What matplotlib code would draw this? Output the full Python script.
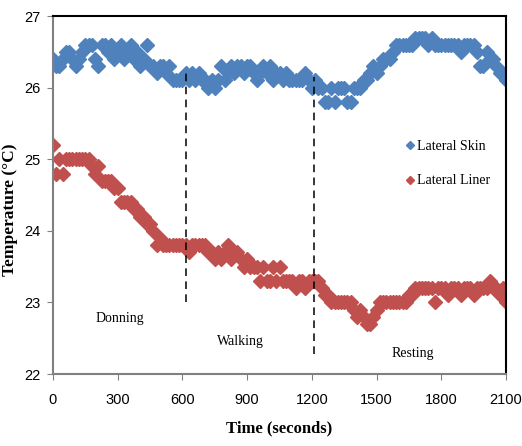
import numpy as np
import matplotlib
matplotlib.use("Agg")
import matplotlib.pyplot as plt
from matplotlib import font_manager

# temperature logged every 15 s over the 35 min trial
time_s = np.arange(0, 2101, 15)

lateral_skin = [
    26.4, 26.3, 26.3, 26.4, 26.5, 26.5, 26.4, 26.3, 26.4, 26.5,
    26.6, 26.6, 26.6, 26.4, 26.3, 26.6, 26.6, 26.5, 26.6, 26.4,
    26.5, 26.6, 26.4, 26.5, 26.6, 26.4, 26.5, 26.3, 26.4, 26.6,
    26.3, 26.3, 26.2, 26.3, 26.3, 26.2, 26.3, 26.1, 26.1, 26.1,
    26.1, 26.2, 26.1, 26.2, 26.1, 26.2, 26.1, 26.1, 26.0, 26.1,
    26.0, 26.1, 26.3, 26.1, 26.2, 26.3, 26.2, 26.3, 26.3, 26.2,
    26.3, 26.3, 26.2, 26.1, 26.2, 26.3, 26.2, 26.3, 26.1, 26.2,
    26.2, 26.1, 26.2, 26.1, 26.1, 26.1, 26.1, 26.1, 26.2, 26.1,
    26.0, 26.1, 26.0, 26.0, 25.8, 25.8, 26.0, 25.8, 26.0, 26.0,
    26.0, 25.8, 25.8, 26.0, 26.0, 26.0, 26.1, 26.1, 26.2, 26.3,
    26.2, 26.3, 26.4, 26.4, 26.4, 26.5, 26.6, 26.6, 26.6, 26.6,
    26.6, 26.6, 26.7, 26.7, 26.7, 26.7, 26.6, 26.7, 26.6, 26.6,
    26.6, 26.6, 26.6, 26.6, 26.6, 26.6, 26.5, 26.6, 26.6, 26.6,
    26.6, 26.5, 26.3, 26.3, 26.5, 26.4, 26.4, 26.3, 26.2, 26.2,
    26.1,
]

lateral_liner = [
    25.2, 24.8, 25.0, 24.8, 25.0, 25.0, 25.0, 25.0, 25.0, 25.0,
    25.0, 25.0, 24.9, 24.8, 24.9, 24.7, 24.7, 24.7, 24.7, 24.6,
    24.6, 24.4, 24.4, 24.4, 24.4, 24.3, 24.3, 24.2, 24.2, 24.1,
    24.1, 24.0, 23.8, 23.9, 23.8, 23.8, 23.8, 23.8, 23.8, 23.8,
    23.8, 23.8, 23.7, 23.8, 23.8, 23.8, 23.8, 23.8, 23.7, 23.7,
    23.6, 23.7, 23.6, 23.7, 23.8, 23.6, 23.7, 23.7, 23.6, 23.5,
    23.6, 23.5, 23.5, 23.5, 23.3, 23.5, 23.3, 23.3, 23.5, 23.3,
    23.5, 23.3, 23.3, 23.3, 23.3, 23.2, 23.3, 23.3, 23.2, 23.3,
    23.3, 23.3, 23.3, 23.2, 23.1, 23.1, 23.0, 23.0, 23.0, 23.0,
    23.0, 23.0, 23.0, 22.9, 22.8, 22.9, 22.8, 22.7, 22.7, 22.8,
    22.9, 23.0, 23.0, 23.0, 23.0, 23.0, 23.0, 23.0, 23.0, 23.0,
    23.1, 23.1, 23.2, 23.2, 23.2, 23.2, 23.2, 23.2, 23.0, 23.2,
    23.2, 23.2, 23.1, 23.2, 23.2, 23.2, 23.1, 23.2, 23.2, 23.2,
    23.1, 23.2, 23.2, 23.2, 23.2, 23.3, 23.2, 23.2, 23.1, 23.2,
    23.0,
]

# phase boundaries (s) and the span of each dashed marker line
phase_bounds = [615, 1210]
bound_top = [26.2, 26.15]
bound_bottom = [23.0, 22.28]

phase_names = ["Donning", "Walking", "Resting"]
phase_x = [310, 870, 1668]
phase_y = [22.78, 22.45, 22.28]

assert len(lateral_skin) == len(time_s) == len(lateral_liner)


def first_font(names):
    for n in names:
        try:
            font_manager.findfont(n, fallback_to_default=False)
            return n
        except ValueError:
            continue
    return "DejaVu Sans"


serif = "Liberation Serif"
tick_font = first_font(["Liberation Sans Narrow", "Liberation Sans"])

fig = plt.figure(figsize=(5.22, 4.46), dpi=100)
ax = fig.add_axes([0.1015, 0.1614, 0.868, 0.8026])

ax.plot(time_s, lateral_skin, linestyle="none", marker="D", markersize=7,
        color="#4F81BD", label="Lateral Skin")
ax.plot(time_s, lateral_liner, linestyle="none", marker="D", markersize=7,
        color="#C0504D", label="Lateral Liner")

for x, y0, y1 in zip(phase_bounds, bound_bottom, bound_top):
    ax.plot([x, x], [y0, y1], color="black", linestyle=(0, (5, 3.5)), linewidth=1.1)

for name, x, y in zip(phase_names, phase_x, phase_y):
    ax.text(x, y, name, ha="center", va="center", family=serif, fontsize=10)

ax.set_xlim(0, 2100)
ax.set_ylim(22, 27)
ax.set_xticks(np.arange(0, 2101, 300))
ax.set_yticks(np.arange(22, 28, 1))

for lab in ax.get_xticklabels() + ax.get_yticklabels():
    lab.set_family(tick_font)
    lab.set_fontsize(10.5)

ax.tick_params(axis="x", direction="out", length=4, color="#808080", pad=10)
ax.tick_params(axis="y", direction="out", length=4, color="#808080", pad=5)

ax.spines["left"].set_color("#808080")
ax.spines["bottom"].set_color("#808080")
ax.spines["top"].set_color("black")
ax.spines["right"].set_color("black")
for sp in ax.spines.values():
    sp.set_linewidth(1.5)

ax.set_xlabel("Time (seconds)", family=serif, fontweight="bold", fontsize=12, labelpad=9)
ax.set_ylabel("Temperature (\u00b0C)", family=serif, fontweight="bold", fontsize=12.5)
ax.yaxis.set_label_coords(-0.078, 0.46)

ax.legend(loc="upper left", bbox_to_anchor=(0.755, 0.685), frameon=True,
          facecolor="white", edgecolor="none", framealpha=1,
          prop={"family": serif, "size": 10}, markerscale=0.55,
          handlelength=0.6, handletextpad=0.2, labelspacing=1.55,
          borderpad=0.3)

fig.savefig("out.png", dpi=100)
